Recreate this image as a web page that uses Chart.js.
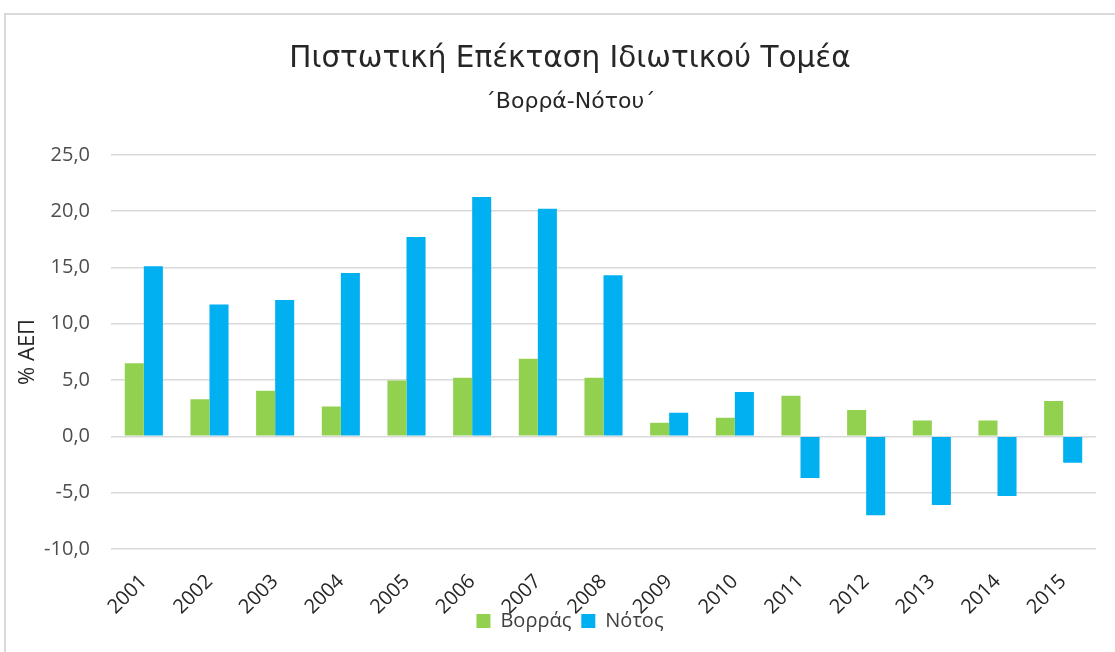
<!DOCTYPE html>
<html>
<head>
<meta charset="utf-8">
<script src="https://cdn.jsdelivr.net/npm/chart.js@4/dist/chart.umd.min.js"></script>
<style>
  html,body{margin:0;padding:0;background:#fff;overflow:hidden;}
  #wrap{position:absolute;left:0;top:0;width:1115px;height:652px;}
  #frame{position:absolute;left:4px;top:13px;width:1200px;height:700px;border-left:2px solid #d9d9d9;border-top:2px solid #d9d9d9;pointer-events:none;}
</style>
</head>
<body>
<div id="wrap"><canvas id="c"></canvas></div>
<div id="frame"></div>
<script>
const years=["2001","2002","2003","2004","2005","2006","2007","2008","2009","2010","2011","2012","2013","2014","2015"];
const vorras=[6.5,3.3,4.05,2.65,4.95,5.2,6.9,5.2,1.2,1.65,3.6,2.35,1.4,1.4,3.15];
const notos=[15.1,11.7,12.1,14.5,17.7,21.25,20.2,14.3,2.1,3.95,-3.7,-7.0,-6.1,-5.3,-2.35];
const yTicks=[-10,-5,0,5,10,15,20,25];

Chart.defaults.font.family="'Open Sans', sans-serif";
Chart.defaults.color="#4d4d4d";

const ctx=document.getElementById("c").getContext("2d");
new Chart(ctx,{
  type:"bar",
  data:{
    labels:years,
    datasets:[
      {label:"Βορράς",data:vorras,backgroundColor:"#92D050",categoryPercentage:0.58,barPercentage:1},
      {label:"Νότος",data:notos,backgroundColor:"#00B0F0",categoryPercentage:0.58,barPercentage:1}
    ]
  },
  options:{
    responsive:true,
    maintainAspectRatio:false,
    animation:false,
    layout:{padding:{left:44,right:19,top:0,bottom:11}},
    plugins:{
      title:{display:true,text:"Πιστωτική Επέκταση Ιδιωτικού Τομέα",color:"#262626",
        font:{family:"'DejaVu Sans', sans-serif",size:29.5,weight:"normal"},padding:{top:42,bottom:0}},
      subtitle:{display:true,text:"΄Βορρά-Νότου΄",color:"#262626",
        font:{family:"'DejaVu Sans', sans-serif",size:22},padding:{top:12,bottom:39}},
      legend:{position:"bottom",labels:{boxWidth:14,boxHeight:14,color:"#404040",font:{size:20}}},
      tooltip:{enabled:false}
    },
    scales:{
      x:{
        grid:{display:false},
        border:{display:false},
        ticks:{minRotation:45,maxRotation:45,padding:13,color:"#262626",font:{size:20}},
        afterFit:(s)=>{ s.height=52; s._computeLabelArea=()=>undefined; }
      },
      y:{
        min:-10,max:25,
        afterBuildTicks:(s)=>{ s.ticks=yTicks.map(v=>({value:v})); },
        grid:{color:"#d9d9d9",lineWidth:1.5,drawTicks:false},
        border:{display:false},
        ticks:{padding:21,font:{size:20},callback:(v)=>v.toFixed(1).replace(".",",")},
        title:{display:true,text:"% ΑΕΠ",font:{size:22},color:"#262626",padding:{top:-29}},
        afterFit:(s)=>{ s.width=67; }
      }
    }
  }
});
</script>
</body>
</html>
